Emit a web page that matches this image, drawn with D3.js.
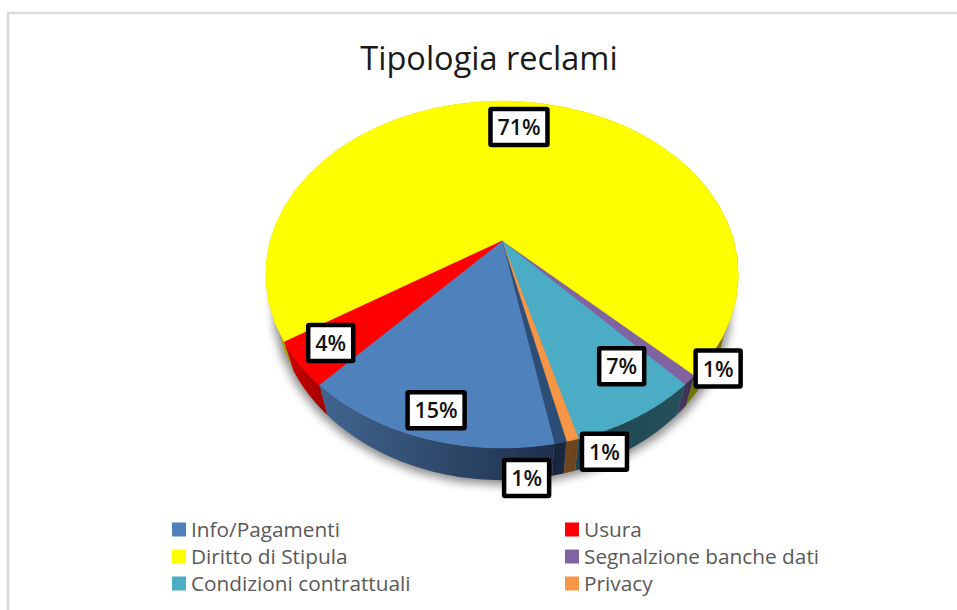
<!DOCTYPE html>
<html>
<head>
<meta charset="utf-8">
<script src="https://cdn.jsdelivr.net/npm/d3@7"></script>
<style>
  html, body { margin: 0; padding: 0; background: #fff; }
  svg { display: block; }
  text { font-family: "Open Sans", sans-serif; }
</style>
</head>
<body>
<svg width="957" height="610"></svg>
<script>
// Data, clockwise starting from the yellow slice
const categories = ["Diritto di Stipula", "Segnalzione banche dati", "Condizioni contrattuali", "Privacy", "Altro", "Info/Pagamenti", "Usura"];
const values = [71.4, 0.9, 7.49, 0.7, 0.7, 14.71, 4.1];
const topColors = ["#ffff00", "#8064a2", "#4bacc6", "#f79646", "#2c4d75", "#4f81bd", "#ff0000"];
const sideColors = [["#a8a800", "#6e6e00"], ["#4a3a60", "#3a2d4c"], ["#1f4650", "#24505c"], ["#74481f", "#6a421c"], ["#16243a", "#1a2a42"], ["#41658f", "#1e2f4b"], ["#d00000", "#a00000"]];

const legendLeft = ["Info/Pagamenti", "Diritto di Stipula", "Condizioni contrattuali"];
const legendRight = ["Usura", "Segnalzione banche dati", "Privacy"];

// label placement along each slice: radius fraction and turn in degrees
const labelRadius = [0.79, 1.05, 0.795, 1.075, 1.117, 0.88, 0.857];
const labelTurn = [0.4, -6.5, -5.5, -5, 7.5, -0.3, 0.6];

const colorOf = d3.scaleOrdinal().domain(categories).range(topColors);

const svg = d3.select("svg");
const defs = svg.append("defs");

defs.append("filter").attr("id", "soft")
    .attr("x", "-10%").attr("y", "-10%").attr("width", "120%").attr("height", "120%")
  .append("feGaussianBlur").attr("stdDeviation", 5);

// chart frame
svg.append("path")
    .attr("d", "M8,610V13H957")
    .attr("fill", "none")
    .attr("stroke", "#d9d9d9")
    .attr("stroke-width", 2.5);

svg.append("text")
    .attr("x", 489).attr("y", 70)
    .attr("text-anchor", "middle")
    .attr("font-size", 32.5)
    .attr("fill", "#1a1a1a")
    .text("Tipologia reclami");

// perspective projection of the pie disc
const cx = 502, persp = 0.193;
function project(angle, r, disc) {
    const u = r * Math.sin(angle), v = -r * Math.cos(angle);
    const w = 1 - persp * v;
    return [cx + disc.b * u / w, disc.y0 + disc.a * v / w];
}
const topDisc = { y0: 241, a: 167, b: 232 };
const lowDisc = { y0: 267, a: 172, b: 222 };

const pie = d3.pie().sort(null).value(d => d)
    .startAngle(237.2 * Math.PI / 180)
    .endAngle((237.2 + 360) * Math.PI / 180);
const arcs = pie(values);

const line = d3.line();
const rim = (a0, a1, disc) => d3.range(0, 41).map(i => project(a0 + (a1 - a0) * i / 40, 1, disc));

// shadow under the pie
svg.append("path")
    .attr("d", line(rim(0, 2 * Math.PI, { y0: lowDisc.y0 + 5, a: lowDisc.a, b: lowDisc.b + 3 })) + "Z")
    .attr("fill", "#000")
    .attr("opacity", 0.45)
    .attr("filter", "url(#soft)");

// side walls
arcs.forEach((d, i) => {
    const id = "side" + i;
    const upper = rim(d.startAngle, d.endAngle, topDisc);
    const lower = rim(d.startAngle, d.endAngle, lowDisc);
    const xs = upper.concat(lower).map(p => p[0]);
    const g = defs.append("linearGradient").attr("id", id)
        .attr("gradientUnits", "userSpaceOnUse")
        .attr("x1", d3.min(xs)).attr("x2", d3.max(xs)).attr("y1", 0).attr("y2", 0);
    g.append("stop").attr("offset", 0).attr("stop-color", sideColors[i][0]);
    g.append("stop").attr("offset", 1).attr("stop-color", sideColors[i][1]);
    svg.append("path")
        .attr("d", line(upper.concat(lower.reverse())) + "Z")
        .attr("fill", "url(#" + id + ")");
});

// top surface
svg.selectAll(".slice")
    .data(arcs)
    .enter().append("path")
    .attr("class", "slice")
    .attr("d", d => line([[cx, topDisc.y0]].concat(rim(d.startAngle, d.endAngle, topDisc))) + "Z")
    .attr("fill", (d, i) => colorOf(categories[i]))
    .attr("stroke", (d, i) => colorOf(categories[i]))
    .attr("stroke-width", 0.5);

// data labels
const labels = svg.selectAll(".label")
    .data(arcs)
    .enter().append("g")
    .attr("class", "label")
    .attr("transform", (d, i) => {
        const mid = (d.startAngle + d.endAngle) / 2 + labelTurn[i] * Math.PI / 180;
        return "translate(" + project(mid, labelRadius[i], topDisc) + ")";
    });
labels.append("rect")
    .attr("x", (d, i) => i === 0 || i === 5 ? -28.5 : -22.5)
    .attr("y", -18)
    .attr("width", (d, i) => i === 0 || i === 5 ? 57 : 45)
    .attr("height", 36)
    .attr("fill", "#fff")
    .attr("stroke", "#000")
    .attr("stroke-width", 4.5)
    .attr("rx", 1);
labels.append("text")
    .attr("text-anchor", "middle")
    .attr("y", 8)
    .attr("font-size", 21.5)
    .attr("font-weight", 600)
    .attr("fill", "#111")
    .text(d => Math.round(d.value) + "%");

// legend
const legendRow = d3.scaleBand().domain([0, 1, 2]).range([516, 597]);
[[legendLeft, 172], [legendRight, 565]].forEach(([names, x]) => {
    const item = svg.append("g").selectAll("g")
        .data(names)
        .enter().append("g")
        .attr("transform", (d, i) => "translate(" + x + "," + (legendRow(i) + legendRow.bandwidth() / 2) + ")");
    item.append("rect")
        .attr("y", -7).attr("width", 14).attr("height", 14)
        .attr("fill", d => colorOf(d));
    item.append("text")
        .attr("x", 19).attr("y", 7)
        .attr("font-size", 20.8)
        .attr("fill", "#595959")
        .text(d => d);
});
</script>
</body>
</html>
